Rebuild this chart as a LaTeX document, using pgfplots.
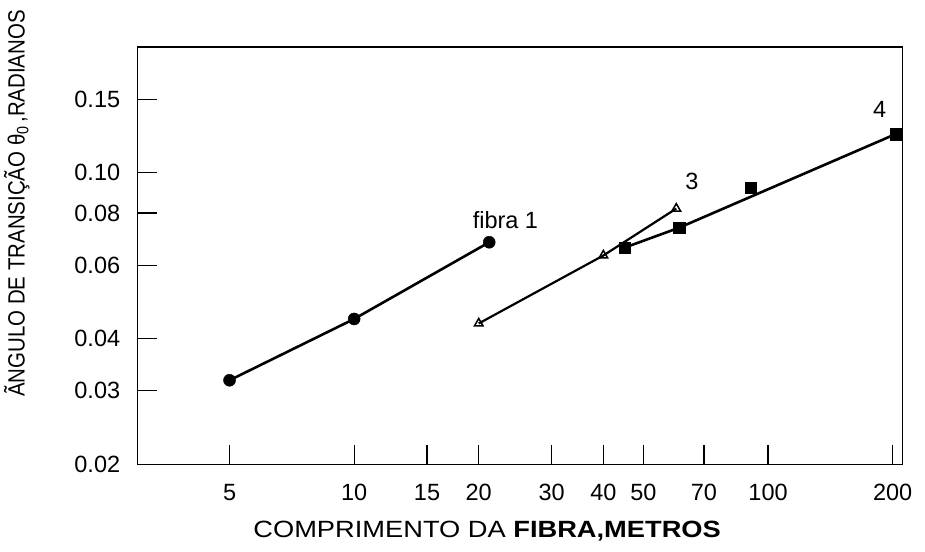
\documentclass[border=0pt]{standalone}
\usepackage{fontspec}
\setmainfont{Liberation Sans}
\usepackage{pgfplots}
\pgfplotsset{compat=1.18}
\newcommand{\fs}{\fontsize{23.5}{28}\selectfont}
\begin{document}
\begin{tikzpicture}
\begin{axis}[
  scale only axis, width=764.6pt, height=417.3pt,
  xmode=log, ymode=log,
  xmin=3, xmax=211, ymin=0.02, ymax=0.2,
  axis line style={line width=1.2pt},
  tick style={line width=1.2pt, black},
  major tick length=19pt,
  minor tick length=0pt,
  tick align=inside,
  tick pos=left,
  xtick={5,10,15,20,30,40,50,70,100,200},
  xticklabels={5,10,15,20,30,40,50,70,100,200},
  ytick={0.02,0.03,0.04,0.06,0.08,0.10,0.15},
  yticklabels={0.02,0.03,0.04,0.06,0.08,0.10,0.15},
  tick label style={font=\fs},
  xticklabel style={yshift=-16pt},
  yticklabel style={xshift=-14pt},
  xlabel={\scalebox{1.16}[1]{COMPRIMENTO DA \textbf{FIBRA,METROS}}},
  xlabel style={font=\fs, at={(axis description cs:0.457,0)}, anchor=north, yshift=-53pt},
  ylabel={\scalebox{0.87}[1]{ÃNGULO DE TRANSIÇÃO θ\textsubscript{0}\,,RADIANOS}},
  ylabel style={font=\fs, at={(axis description cs:0,0.625)}, anchor=center, yshift=121pt},
  clip=false,
]
\addplot[black, line width=2.6pt, mark=*, mark size=6pt, mark options={line width=0.5pt, fill=black}]
  coordinates {(5,0.0318)(10,0.0446)(21.2,0.0681)};
\addplot[black, line width=2.2pt, mark=triangle, mark size=5pt, mark options={fill=white, line width=1.5pt}]
  coordinates {(20,0.0435)(40,0.0633)(60,0.082)};
\addplot[black, line width=2.6pt]
  coordinates {(45,0.0661)(61,0.0738)(203,0.1236)};
\addplot[black, only marks, mark=square*, mark size=5.6pt, mark options={line width=0.5pt, fill=black}]
  coordinates {(45,0.0661)(61,0.0738)(91,0.092)(203,0.1236)};
\node[font=\fs] at (axis cs:23.2,0.0771) {fibra 1};
\node[font=\fs] at (axis cs:65.5,0.0951) {3};
\node[font=\fs] at (axis cs:186,0.1417) {4};
\end{axis}
\pgfresetboundingbox
\path (current axis.south west) ++(-137.7pt,-86.7pt) rectangle ++(925pt,551pt);
\end{tikzpicture}
\end{document}
